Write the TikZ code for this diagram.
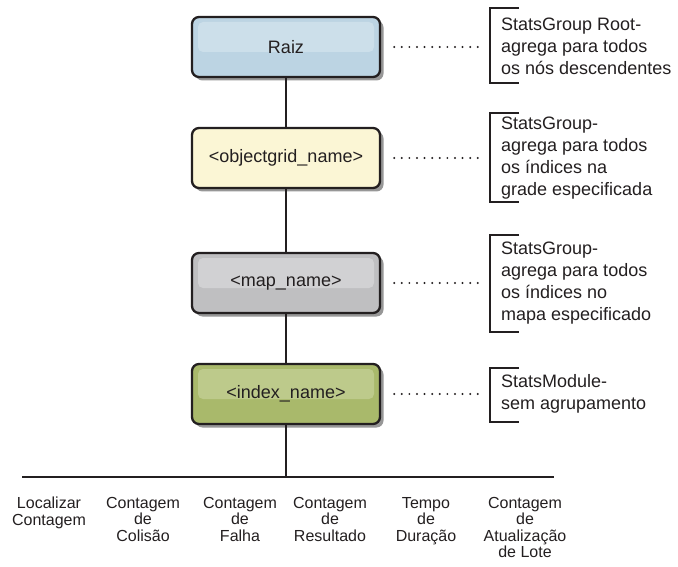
\documentclass[tikz,border=0pt]{standalone}
\usepackage{fontspec}
\setmainfont{Liberation Sans}
\usetikzlibrary{shadows}
\definecolor{ink}{HTML}{231F20}
\definecolor{bluefill}{HTML}{BCD4E3}
\definecolor{bluegloss}{HTML}{CCDFEA}
\definecolor{yelfill}{HTML}{FBF6D5}
\definecolor{grayfill}{HTML}{BFBFC1}
\definecolor{graygloss}{HTML}{D1D1D3}
\definecolor{grnfill}{HTML}{A9B96B}
\definecolor{grngloss}{HTML}{BDCA8B}
\begin{document}
\begin{tikzpicture}[x=1pt,y=-1pt,
  box/.style={draw=ink, line width=2.3pt, rounded corners=7pt,
    minimum width=188pt, minimum height=60pt, inner sep=0pt,
    font=\fontsize{18}{21}\selectfont, text=ink,
    drop shadow={shadow xshift=3.5pt, shadow yshift=-3.5pt, fill=black!45, opacity=0.9}},
  gloss/.style={path picture={\fill[#1, rounded corners=5pt]
    ([xshift=6pt,yshift=-5pt]path picture bounding box.north west) rectangle
    ([xshift=-6pt,yshift=-5pt]path picture bounding box.east);}},
  conn/.style={draw=ink, line width=2pt},
  brk/.style={draw=ink, line width=2.5pt},
  dots/.style={draw=ink, line width=2.2pt, line cap=round, dash pattern=on 0pt off 7.6pt},
  note/.style={anchor=west, align=left, inner sep=0pt, font=\fontsize{18}{22}\selectfont, text=ink},
  lab/.style={anchor=north, align=center, inner sep=0pt, font=\fontsize{16}{16.5}\selectfont, text=ink}
]
\useasboundingbox (0,0) rectangle (678,567);

% boxes
\node[box, fill=bluefill, gloss=bluegloss] (raiz) at (286,47) {Raiz};
\node[box, fill=yelfill, gloss=yelfill] (og) at (286,158) {<objectgrid\_name>};
\node[box, fill=grayfill, gloss=graygloss] (map) at (286,283) {<map\_name>};
\node[box, fill=grnfill, gloss=grngloss] (idx) at (286,394) {<index\_name>};

% tree connectors
\draw[conn] (raiz) -- (og);
\draw[conn] (og) -- (map);
\draw[conn] (map) -- (idx);
\coordinate (hj) at (286,477);
\coordinate (hl) at (22,477);
\coordinate (hr) at (554,477);
\draw[conn] (idx) -- (hj);
\draw[conn] (hl) -- (hr);

% brackets
\draw[brk] (519,8) -- (490,8) -- (490,83) -- (519,83);
\draw[brk] (519,113) -- (490,113) -- (490,202) -- (519,202);
\draw[brk] (519,235) -- (490,235) -- (490,332) -- (519,332);
\draw[brk] (519,368) -- (490,368) -- (490,422) -- (519,422);
\coordinate (b1) at (490,47);
\coordinate (b2) at (490,158);
\coordinate (b3) at (490,283);
\coordinate (b4) at (490,394);

% dotted leaders
\draw[dots] ([xshift=13pt]raiz.east) -- ([xshift=-5pt]b1);
\draw[dots] ([xshift=13pt]og.east) -- ([xshift=-5pt]b2);
\draw[dots] ([xshift=13pt]map.east) -- ([xshift=-5pt]b3);
\draw[dots] ([xshift=13pt]idx.east) -- ([xshift=-5pt]b4);

% notes
\node[note] (t1) at (501,46) {StatsGroup Root-\\agrega para todos\\os nós descendentes};
\node[note] (t2) at (501,158) {StatsGroup-\\agrega para todos\\os índices na\\grade especificada};
\node[note] (t3) at (501,283) {StatsGroup-\\agrega para todos\\os índices no\\mapa especificado};
\node[note] (t4) at (501,394) {StatsModule-\\sem agrupamento};

% bottom labels
\node[lab] (l1) at (49,497) {Localizar\\Contagem};
\node[lab] (l2) at (143,497) {Contagem\\de\\Colisão};
\node[lab] (l3) at (240,497) {Contagem\\de\\Falha};
\node[lab] (l4) at (330,497) {Contagem\\de\\Resultado};
\node[lab] (l5) at (426,497) {Tempo\\de\\Duração};
\node[lab] (l6) at (525,497) {Contagem\\de\\Atualização\\de Lote};
\end{tikzpicture}
\end{document}
